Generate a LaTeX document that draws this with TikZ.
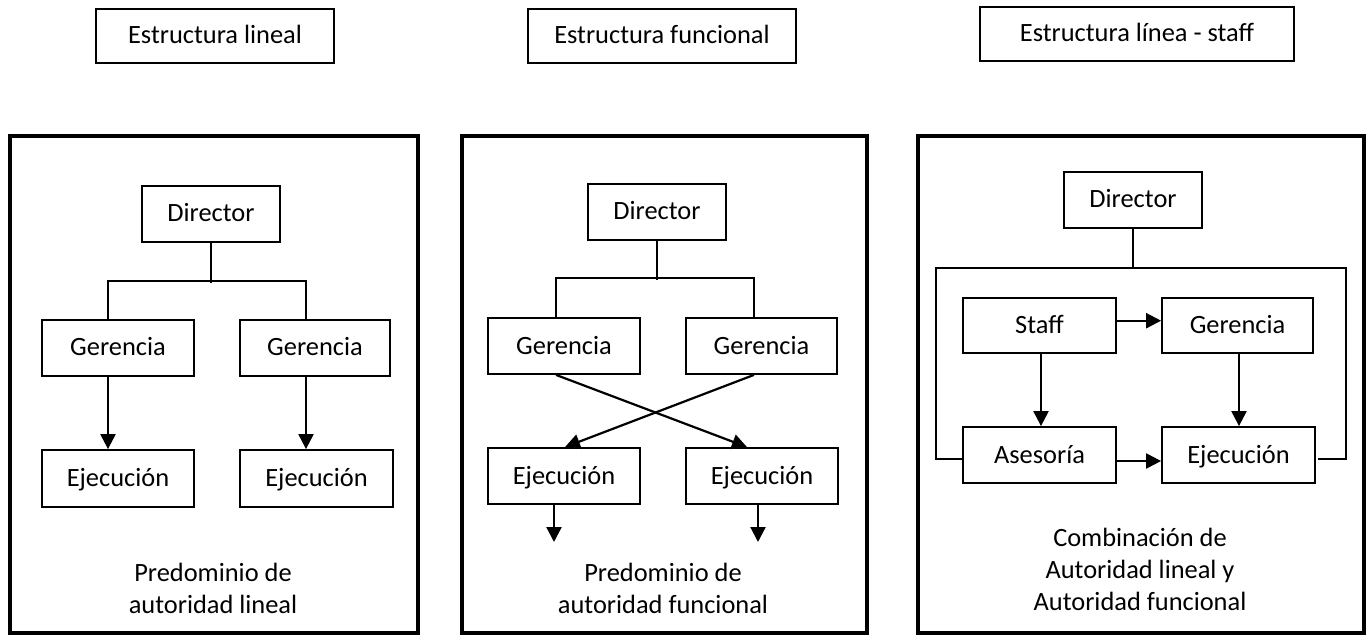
\documentclass[tikz,border=0pt]{standalone}
\usepackage{fontspec}
\setmainfont{Carlito}
\usetikzlibrary{arrows.meta}
\begin{document}
\begin{tikzpicture}[x=0.5pt,y=-0.5pt,
  font=\fontsize{13.2pt}{16pt}\selectfont,
  box/.style={draw,line width=0.9pt,inner sep=0pt,minimum height=28pt,minimum width=76pt,
              text height=11pt,text depth=3pt},
  titlebox/.style={box,minimum height=27pt},
  frame/.style={line width=2.3pt},
  link/.style={line width=1pt},
  arr/.style={line width=1.1pt,-{Triangle[length=7.5pt,width=7.5pt]}},
  caption/.style={align=center,inner sep=0pt}]
\useasboundingbox (0,0) rectangle (1371,636);

% ---------- titles ----------
\node[titlebox,minimum width=119pt] (t1) at (215,36) {Estructura lineal};
\node[titlebox,minimum width=134pt] (t2) at (662,36) {Estructura funcional};
\node[titlebox,minimum width=157pt] (t3) at (1137,34) {Estructura línea - staff};

% ---------- frames ----------
\draw[frame] (10,136) rectangle (418,633);
\draw[frame] (462,136) rectangle (867,633);
\draw[frame] (918,136) rectangle (1364,633);

% ---------- linear structure ----------
\node[box,minimum width=69pt] (d1) at (211,214) {Director};
\node[box] (g1a) at (118,348) {Gerencia};
\node[box,minimum width=75pt] (g1b) at (315,348) {Gerencia};
\node[box,minimum height=28.5pt] (e1a) at (118,478.5) {Ejecución};
\node[box,minimum height=28.5pt,minimum width=76.5pt] (e1b) at (316.5,478.5) {Ejecución};
\draw[link] (d1.south) -- ++(0,40);
\draw[link] ([xshift=-5pt]g1a.north) -- ++(0,-38) -| ([xshift=-4.5pt]g1b.north);
\draw[arr] ([xshift=-5pt]g1a.south) -- ([xshift=-5pt]g1a.south |- e1a.north);
\draw[arr] ([xshift=-4.5pt]g1b.south) -- ([xshift=-4.5pt]g1b.south |- e1b.north);
\node[caption] (c1) at (213,588) {Predominio de\\autoridad lineal};

% ---------- functional structure ----------
\node[box,minimum width=69pt] (d2) at (657,212) {Director};
\node[box] (g2a) at (564,346) {Gerencia};
\node[box,minimum width=75.5pt] (g2b) at (761.5,346) {Gerencia};
\node[box] (e2a) at (564,476) {Ejecución};
\node[box] (e2b) at (762,476) {Ejecución};
\draw[link] (d2.south) -- ++(0,39);
\draw[link] ([xshift=-4pt]g2a.north) -- ++(0,-39) -| ([xshift=-3.75pt]g2b.north);
\draw[arr] ([xshift=-4pt]g2a.south) -- ([xshift=-7.5pt]e2b.north);
\draw[arr] ([xshift=-3.75pt]g2b.south) -- ([xshift=0.5pt]e2a.north);
\coordinate (o2a) at (554,542);
\coordinate (o2b) at (758,542);
\draw[arr] ([xshift=-5pt]e2a.south) -- (o2a);
\draw[arr] ([xshift=-2pt]e2b.south) -- (o2b);
\node[caption] (c2) at (663,588) {Predominio de\\autoridad funcional};

% ---------- line-staff structure ----------
\node[box,minimum width=69pt] (d3) at (1133,200) {Director};
\node[box,minimum width=76.5pt,minimum height=27.5pt] (s3) at (1039.5,325.5) {Staff};
\node[box,minimum width=75.5pt,minimum height=27.5pt] (g3) at (1237.5,325.5) {Gerencia};
\node[box,minimum width=76.5pt] (a3) at (1039.5,455) {Asesoría};
\node[box,minimum width=76.5pt] (e3) at (1238.5,455) {Ejecución};
\coordinate (bl) at (936,268);
\coordinate (br) at (1346,268);
\draw[link] (d3.south) -- (d3.south |- bl);
\draw[link] ([yshift=-2pt]a3.west) -| (bl) -- (br) |- ([xshift=1pt,yshift=-2pt]e3.east);
\draw[arr] ([yshift=2.4pt]s3.east) -- ([yshift=2.4pt]s3.east -| g3.west);
\draw[arr] ([yshift=-3pt]a3.east) -- ([yshift=-3pt]a3.east -| e3.west);
\draw[arr] ([xshift=0.75pt]s3.south) -- ([xshift=0.75pt]s3.south |- a3.north);
\draw[arr] ([xshift=0.75pt]g3.south) -- ([xshift=0.75pt]g3.south |- e3.north);
\node[caption] (c3) at (1140,569) {Combinación de\\Autoridad lineal y\\Autoridad funcional};
\end{tikzpicture}
\end{document}
